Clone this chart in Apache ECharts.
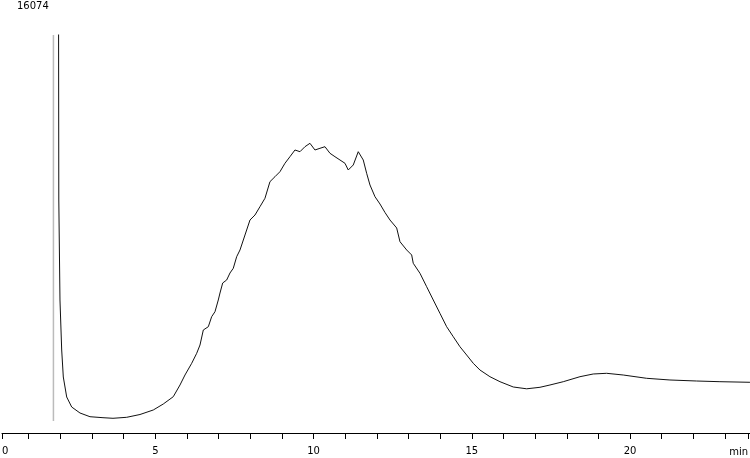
<!DOCTYPE html>
<html>
<head>
<meta charset="utf-8">
<script src="https://cdn.jsdelivr.net/npm/echarts@6/dist/echarts.min.js"></script>
<style>html,body{margin:0;padding:0;background:#fff}#c{width:750px;height:458px}</style>
</head>
<body>
<div id="c"></div>
<script>
// ---- data (time in min, signal in counts) ----
var fullScale = 16074;
var axisStart = 0.155;
var axisEnd = 23.79;
var tickValues = [axisStart,1,2,3,4,5,6,7,8,9,10,11,12,13,14,15,16,17,18,19,20,21,22,23,23.73];
var labelValues = [axisStart,5,10,15,20];
var tickLabels = ['0','5','10','15','20'];
var axisUnit = 'min';
var injectionTime = [1.78, 1.78];
var injectionLevel = [485, 16074];
var times = [1.934,1.95,1.987,2.041,2.092,2.199,2.357,2.619,2.935,3.346,3.662,4.095,4.515,4.935,5.251,5.567,5.779,5.937,6.149,6.307,6.411,6.516,6.674,6.780,6.885,6.989,7.043,7.128,7.254,7.359,7.463,7.570,7.675,7.833,7.991,8.149,8.306,8.464,8.622,8.780,8.938,9.096,9.254,9.412,9.570,9.728,9.886,10.044,10.202,10.360,10.518,10.676,10.834,10.992,11.096,11.254,11.412,11.570,11.677,11.782,11.940,12.098,12.256,12.414,12.626,12.730,12.942,13.100,13.150,13.362,13.573,13.782,13.993,14.205,14.414,14.625,14.837,15.046,15.257,15.573,15.890,16.310,16.733,17.154,17.469,17.890,18.417,18.837,19.260,19.785,20.524,21.260,22.104,22.840,23.789];
var signal = [25000,9410,5372,3352,2262,1454,1050,808,658,618,594,634,747,929,1171,1466,1939,2343,2815,3219,3554,4160,4293,4697,4899,5372,5654,6058,6179,6462,6652,7120,7391,7997,8603,8804,9140,9479,10150,10351,10553,10893,11159,11430,11361,11563,11700,11430,11498,11563,11297,11159,11026,10893,10622,10824,11361,11026,10489,10016,9544,9249,8906,8602,8280,7726,7391,7189,6854,6450,5909,5372,4834,4293,3889,3485,3150,2815,2544,2274,2072,1858,1785,1846,1939,2072,2274,2383,2411,2342,2209,2141,2100,2072,2048];

var lineData = times.map(function(t,i){return [t, signal[i]];});
var injData = injectionTime.map(function(t,i){return [t, injectionLevel[i]];});

var chart = echarts.init(document.getElementById('c'), null, {renderer:'canvas'});
var font = 'DejaVu Sans';
chart.setOption({
  animation:false,
  backgroundColor:'#fff',
  title:{text:String(fullScale), left:17, top:1, padding:0,
    textStyle:{fontFamily:font, fontSize:10, fontWeight:'normal', color:'#000'}},
  grid:{left:2, right:0, top:35, bottom:25, containLabel:false, outerBoundsMode:'none'},
  xAxis:{type:'value', min:axisStart, max:axisEnd,
    name:axisUnit, nameLocation:'end', nameGap:-2,
    nameTextStyle:{fontFamily:font, fontSize:10, color:'#000', align:'right', verticalAlign:'top', padding:[14,0,0,0]},
    axisLine:{lineStyle:{color:'#000', width:1}},
    axisTick:{show:true, inside:false, length:6, customValues:tickValues, lineStyle:{color:'#000'}},
    axisLabel:{customValues:labelValues, margin:13, fontFamily:font, fontSize:10, color:'#000', alignMinLabel:'left',
      formatter:function(v){var i=labelValues.indexOf(v);return i>=0?tickLabels[i]:'';}},
    splitLine:{show:false}},
  yAxis:{type:'value', min:0, max:fullScale, show:false, splitLine:{show:false}},
  series:[
    {type:'line', data:injData, showSymbol:false, symbol:'none', lineStyle:{color:'#bbb', width:1.5}, z:1},
    {type:'line', data:lineData, showSymbol:false, symbol:'none', clip:true, lineStyle:{color:'#111', width:1}, z:2}
  ]
});
</script>
</body>
</html>
